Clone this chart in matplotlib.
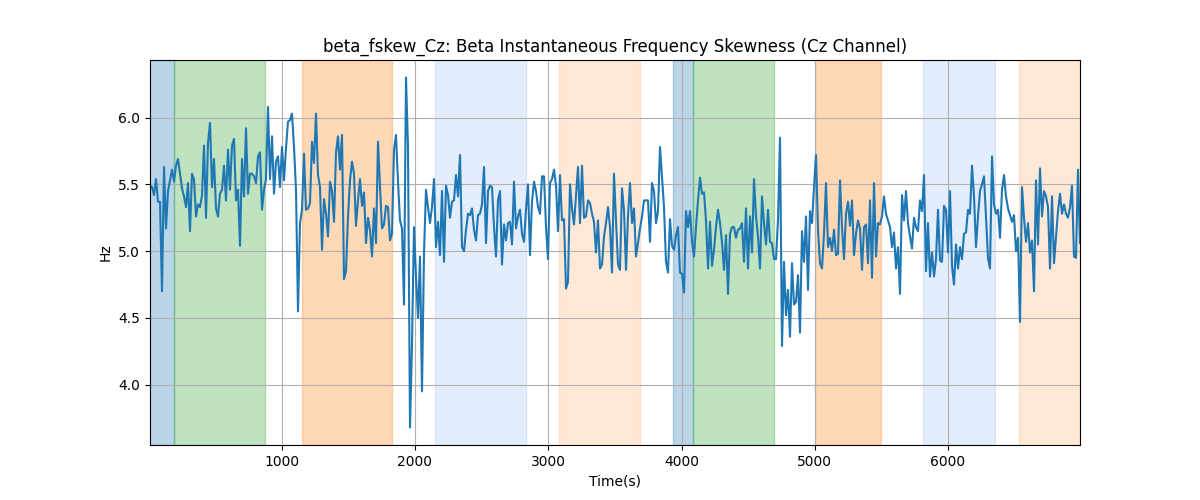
import numpy as np
import matplotlib
matplotlib.use("Agg")
import matplotlib.pyplot as plt

# skewness values, left to right
seg1 = [5.49, 5.48, 5.42, 5.54, 5.37, 5.37, 4.70, 5.63, 5.17, 5.45, 5.53, 5.61, 5.52, 5.64, 5.69,
        5.58, 5.47, 5.41, 5.33, 5.51, 5.15, 5.58, 5.54, 5.26, 5.35, 5.33, 5.42, 5.79, 5.25, 5.81,
        5.96, 5.48, 5.69, 5.32, 5.26, 5.43, 5.46, 5.64, 5.38, 5.76, 5.46, 5.79, 5.84, 5.38, 5.46,
        5.04, 5.69, 5.41, 5.92, 5.43, 5.58, 5.58, 5.56, 5.51, 5.71, 5.74, 5.31, 5.46, 5.54]
seg2 = [6.08, 5.54, 5.86, 5.43, 5.67, 5.71, 5.48, 5.78, 5.53, 5.77, 5.97, 5.98, 6.03, 5.78, 5.46,
        4.55, 5.21, 5.31, 5.73, 5.31, 5.32, 5.36, 5.82, 5.66, 6.03, 5.57, 5.48, 5.01, 5.39, 5.28,
        5.11, 5.52, 5.45, 5.22, 5.74, 5.86, 5.61, 5.87, 4.79, 4.85, 5.26, 5.53, 5.67, 5.58, 5.19,
        5.38, 5.54, 5.34, 5.44, 5.06, 5.25, 5.16, 4.96, 5.32, 5.06, 5.82, 5.48, 5.17]
seg3 = [5.20, 5.34, 5.33, 5.08, 5.13, 5.76, 5.87, 5.52, 5.23, 5.17, 4.60, 6.30, 5.78, 3.68, 4.31,
        5.18, 4.81, 4.50, 4.96, 3.95, 4.99, 5.46, 5.33, 5.21, 5.33, 5.54, 5.03, 5.22, 4.97, 5.45,
        4.92, 5.49, 5.42, 5.25, 5.37, 5.38, 5.57, 5.41, 5.72, 5.03, 5.00, 5.16, 5.28, 5.27, 5.32,
        5.16, 5.08, 5.27, 5.28, 5.35, 5.63, 5.06, 5.45, 5.49, 5.48, 5.18, 4.96, 5.38]
seg4 = [5.45, 4.90, 5.20, 5.08, 5.21, 5.22, 5.05, 5.52, 5.17, 5.26, 5.31, 5.13, 5.07, 5.31, 5.50,
        4.97, 5.37, 5.52, 5.45, 5.33, 5.28, 5.56, 5.56, 5.18, 4.94, 5.51, 5.54, 5.61, 5.49, 5.15,
        5.57, 5.23, 5.24, 4.72, 4.77, 5.50, 5.32, 5.20, 5.41, 5.63, 5.21, 5.64, 5.25, 5.26, 5.38,
        5.36, 5.28, 5.22, 4.99, 5.23, 4.87, 4.90, 5.11, 5.21, 5.33, 5.18, 4.84, 5.58]
seg5 = [5.23, 4.90, 4.86, 5.47, 5.31, 4.86, 5.26, 5.51, 5.21, 5.32, 4.96, 5.06, 5.17, 5.26, 5.38,
        5.38, 5.38, 5.07, 5.51, 5.45, 5.21, 5.30, 5.78, 5.55, 5.33, 4.92, 4.84, 5.24, 5.04, 5.01,
        5.12, 5.18, 4.84, 4.83, 4.69, 5.30, 5.18, 5.30, 5.07, 4.96, 5.18, 5.38, 5.55, 5.43, 5.44,
        5.23, 4.87, 5.22, 4.89, 5.01, 5.18, 5.31, 5.21, 5.07, 4.86, 5.12, 4.68, 5.13]
seg6 = [5.18, 5.18, 5.10, 5.16, 5.17, 5.21, 4.92, 5.32, 4.87, 5.26, 4.99, 5.54, 5.26, 5.11, 4.87,
        5.41, 5.21, 5.05, 5.31, 5.07, 5.06, 4.94, 4.94, 5.23, 5.85, 4.29, 4.92, 4.52, 4.71, 4.36,
        4.91, 4.60, 4.62, 4.82, 4.39, 5.15, 4.92, 5.26, 4.71, 5.30, 5.21, 5.48, 5.72, 5.16, 4.91,
        4.87, 5.13, 5.51, 5.03, 5.10, 5.00, 5.16, 4.97, 4.98, 5.53, 5.18, 4.94, 5.28]
seg7 = [5.37, 5.19, 5.38, 4.97, 5.13, 5.23, 5.17, 4.86, 5.18, 5.20, 4.91, 5.38, 4.80, 5.51, 4.96,
        5.21, 5.20, 5.26, 5.41, 5.28, 5.23, 5.18, 5.03, 5.14, 4.87, 5.03, 4.68, 5.42, 5.23, 5.45,
        5.21, 5.11, 5.02, 5.25, 5.18, 5.15, 5.38, 5.30, 5.57, 4.85, 5.21, 4.81, 4.99, 4.81, 4.94,
        5.31, 4.93, 4.92, 5.34, 5.31, 4.99, 5.45, 4.89, 4.75, 5.05, 4.87, 5.03, 4.94]
seg8 = [5.13, 5.14, 5.31, 5.28, 5.64, 5.41, 5.03, 5.26, 5.45, 5.50, 5.56, 5.26, 4.95, 4.87, 5.71,
        5.35, 5.28, 5.31, 5.10, 5.46, 5.57, 5.41, 5.32, 5.27, 5.22, 5.27, 5.00, 5.10, 4.47, 5.48,
        5.25, 5.07, 5.21, 4.99, 5.08, 4.70, 5.53, 5.05, 5.62, 5.26, 5.45, 5.41, 5.33, 4.87, 5.41,
        4.91, 5.11, 5.30, 5.43, 5.28, 5.35, 5.28, 5.25, 5.33, 5.49, 4.96, 4.95, 5.61, 5.06]

skew = np.array(seg1 + seg2 + seg3 + seg4 + seg5 + seg6 + seg7 + seg8)
t_start, t_end = 12, 6990
time = np.linspace(t_start, t_end, len(skew))

# shaded stage intervals (start, end, colour, alpha)
spans = [
    (0, 193, "C0", 0.3),
    (193, 876, "C2", 0.3),
    (1156, 1830, "C1", 0.3),
    (2148, 2836, "cornflowerblue", 0.17),
    (3079, 3692, "C1", 0.17),
    (3935, 4087, "C0", 0.3),
    (4087, 4691, "C2", 0.3),
    (5001, 5494, "C1", 0.3),
    (5815, 6350, "cornflowerblue", 0.17),
    (6533, 6990, "C1", 0.17),
]

fig, ax = plt.subplots(figsize=(12, 5), dpi=100)
for s, e, c, a in spans:
    ax.axvspan(s, e, color=c, alpha=a)
ax.plot(time, skew, color="C0")
ax.set_xlim(time[0], time[-1])
ax.set_title("beta_fskew_Cz: Beta Instantaneous Frequency Skewness (Cz Channel)")
ax.set_xlabel("Time(s)")
ax.set_ylabel("Hz")
ax.grid(True)
fig.savefig("out.png")
